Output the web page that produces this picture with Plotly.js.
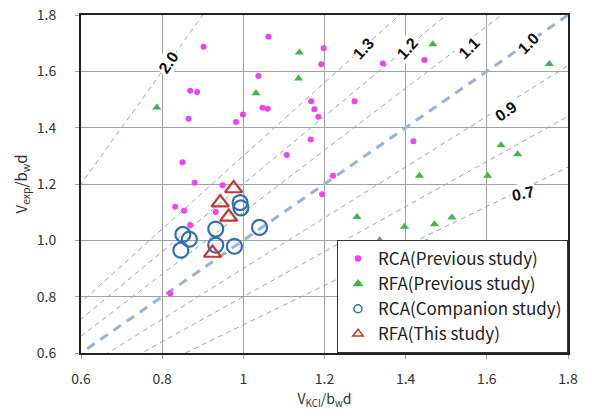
<!DOCTYPE html>
<html>
<head>
<meta charset="utf-8">
<script src="https://cdn.plot.ly/plotly-3.0.1.min.js"></script>
<style>html,body{margin:0;padding:0;background:#fff;}</style>
</head>
<body>
<div id="chart" style="width:593px;height:410px;"></div>
<script>
// ---- data ----
const rcaPrevX = [0.902,1.062,1.198,1.192,1.037,0.869,0.886,1.047,1.060,0.865,0.999,0.982,1.167,1.175,1.185,1.166,1.107,0.850,0.880,0.949,1.344,1.446,1.274,1.419,1.221,1.194,0.832,0.854,0.932,0.869,0.820];
const rcaPrevY = [1.687,1.723,1.682,1.625,1.583,1.531,1.527,1.471,1.467,1.432,1.447,1.420,1.494,1.465,1.439,1.358,1.303,1.277,1.204,1.196,1.628,1.640,1.494,1.352,1.229,1.164,1.119,1.105,1.101,1.054,0.811];
const rfaPrevX = [0.787,1.031,1.138,1.136,1.467,1.754,1.635,1.676,1.434,1.602,1.280,1.397,1.471,1.514,1.336,1.452];
const rfaPrevY = [1.472,1.522,1.667,1.575,1.696,1.626,1.338,1.306,1.229,1.229,1.083,1.048,1.057,1.081,1.000,0.992];
const rcaCompX = [0.851,0.867,0.846,0.932,0.932,0.978,0.992,0.994,1.040];
const rcaCompY = [1.021,1.004,0.965,1.040,0.983,0.979,1.134,1.115,1.046];
const rfaThisX = [0.976,0.943,0.964,0.924];
const rfaThisY = [1.184,1.134,1.083,0.955];

const ratios = [2.0, 1.3, 1.2, 1.1, 1.0, 0.9, 0.8, 0.7];
const ratioLabels = ["2.0","1.3","1.2","1.1","1.0","0.9","0.7"];
const ratioLabelX = [0.815,1.296,1.404,1.555,1.702,1.647,1.689];
const ratioLabelY = [1.633,1.682,1.682,1.682,1.700,1.456,1.166];
const ratioLabelAngle = [-55,-48,-48,-45,-45,-35,-12];

const tickVals = [0.6,0.8,1.0,1.2,1.4,1.6,1.8];
const xTickText = ["0.6","0.8","1","1.2","1.4","1.6","1.8"];
const yTickText = ["0.6","0.8","1.0","1.2","1.4","1.6","1.8"];

const seriesNames = ["RCA(Previous study)","RFA(Previous study)","RCA(Companion study)","RFA(This study)"];
const seriesColors = ['#f23ff2','#3fb54a','#2f6db5','#c8372d'];

// ---- traces ----
const traces = [];
const lineX = [0, 3];
ratios.forEach(r => {
  const thick = (r === 1.0);
  traces.push({
    x: lineX, y: lineX.map(v => v * r),
    mode: 'lines', showlegend: false, hoverinfo: 'skip',
    line: thick ? {color: '#9db0d6', width: 3, dash: '9px,7px'}
                : {color: '#98a5bc', width: 1, dash: '5px,4px'}
  });
});

const font = "'Noto Sans CJK KR', 'Noto Sans', sans-serif";

traces.push({x: rcaPrevX, y: rcaPrevY, mode: 'markers', showlegend: false,
  marker: {symbol: 'circle', size: 6, color: seriesColors[0]}});
traces.push({x: rfaPrevX, y: rfaPrevY, mode: 'markers', showlegend: false,
  marker: {symbol: 'triangle-up', size: 8, color: seriesColors[1]}});
traces.push({x: rcaCompX, y: rcaCompY, mode: 'markers', showlegend: false,
  marker: {symbol: 'circle-open', size: 15, color: seriesColors[2], line: {width: 2.2, color: seriesColors[2]}}});
traces.push({x: rfaThisX, y: rfaThisY, mode: 'markers', showlegend: false,
  marker: {symbol: 'triangle-up-open', size: 15, color: seriesColors[3], line: {width: 2.2, color: seriesColors[3]}}});

// legend entries (small symbols as in the reference legend)
const legendSymbols = ['circle','triangle-up','circle-open','triangle-up-open'];
const legendSizes = [5, 7, 8, 9];
seriesNames.forEach((n, i) => {
  traces.push({x: [null], y: [null], mode: 'markers', name: n, legendgroup: 'g' + i,
    marker: {symbol: legendSymbols[i], size: legendSizes[i], color: seriesColors[i],
      line: {width: 1.5, color: seriesColors[i]}}});
});

const annotations = ratioLabels.map((t, i) => ({
  x: ratioLabelX[i], y: ratioLabelY[i], xref: 'x', yref: 'y',
  text: '<b>' + t + '</b>', showarrow: false, textangle: ratioLabelAngle[i],
  bgcolor: '#ffffff', borderpad: 1,
  font: {family: "'Liberation Sans', Arial, sans-serif", size: 16, color: '#111'}
}));

const axisCommon = {
  range: [0.6, 1.8], tickvals: tickVals,
  showgrid: true, gridcolor: '#a0a0a0', gridwidth: 1,
  zeroline: false, showline: true, mirror: true, linecolor: '#222', linewidth: 2,
  ticks: 'outside', ticklen: 4, tickcolor: '#a0a0a0',
  tickfont: {family: font, size: 14, color: '#333'}
};

const layout = {
  width: 593, height: 410,
  margin: {l: 81, r: 25, t: 15, b: 57},
  paper_bgcolor: '#fff', plot_bgcolor: '#fff',
  showlegend: true,
  xaxis: Object.assign({}, axisCommon, {ticktext: xTickText, ticklabelstandoff: 8,
    title: {text: 'V<sub>KCI</sub>/b<sub>w</sub>d', font: {family: font, size: 14, color: '#333'}, standoff: 0}}),
  yaxis: Object.assign({}, axisCommon, {ticktext: yTickText, ticklabelstandoff: 16,
    title: {text: 'V<sub>exp</sub>/b<sub>w</sub>d', font: {family: font, size: 15, color: '#333'}, standoff: 6}}),
  legend: {x: 1, xanchor: 'right', y: 0, yanchor: 'bottom',
    bgcolor: '#fff', bordercolor: '#333', borderwidth: 1,
    font: {family: font, size: 17, color: '#222'}, tracegroupgap: 0,
    itemwidth: 30},
  annotations: annotations
};

Plotly.newPlot('chart', traces, layout, {displayModeBar: false, staticPlot: true});
</script>
</body>
</html>
